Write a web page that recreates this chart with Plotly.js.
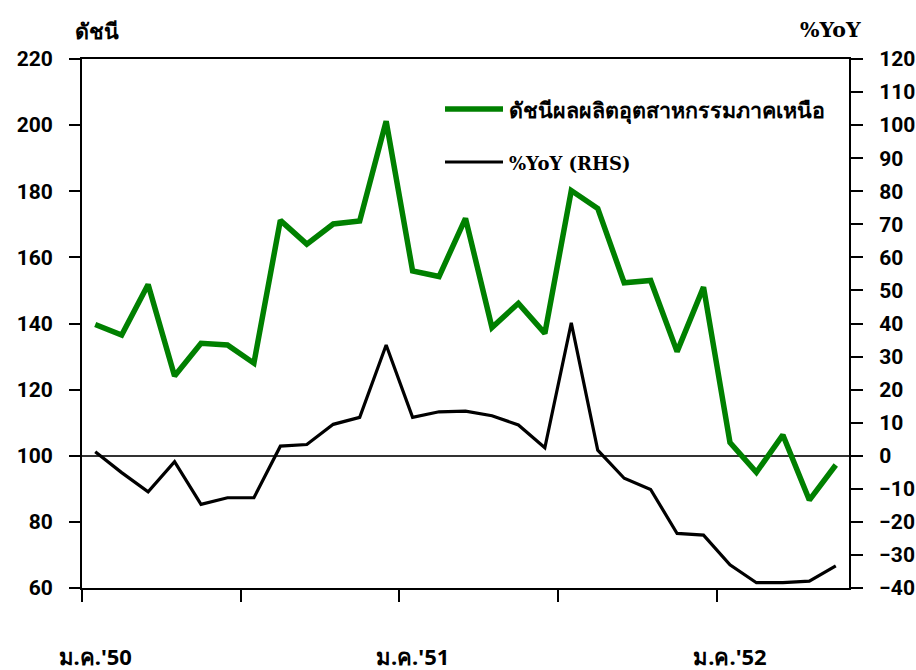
<!DOCTYPE html>
<html>
<head>
<meta charset="utf-8">
<script src="https://cdn.plot.ly/plotly-3.0.1.min.js"></script>
<style>html,body{margin:0;padding:0;background:#fff;}#chart{width:916px;height:670px;}</style>
</head>
<body>
<div id="chart"></div>
<script>
// Months Jan'50 .. May'52 (29 months)
const months = [
  "ม.ค.'50","ก.พ.'50","มี.ค.'50","เม.ย.'50","พ.ค.'50","มิ.ย.'50","ก.ค.'50","ส.ค.'50","ก.ย.'50","ต.ค.'50","พ.ย.'50","ธ.ค.'50",
  "ม.ค.'51","ก.พ.'51","มี.ค.'51","เม.ย.'51","พ.ค.'51","มิ.ย.'51","ก.ค.'51","ส.ค.'51","ก.ย.'51","ต.ค.'51","พ.ย.'51","ธ.ค.'51",
  "ม.ค.'52","ก.พ.'52","มี.ค.'52","เม.ย.'52","พ.ค.'52"
];
const indexValues = [139.7,136.5,151.8,124.1,134.0,133.5,128.0,171.2,164.0,170.1,171.0,201.2,
                     155.9,154.2,171.8,138.8,146.1,137.0,180.2,174.8,152.3,153.0,131.5,151.0,
                     104.0,95.0,106.3,86.6,97.2];
const yoyValues = [1.2,-5.1,-10.9,-1.8,-14.7,-12.7,-12.7,2.9,3.4,9.5,11.6,33.5,
                   11.6,13.3,13.5,12.1,9.3,2.4,40.2,1.7,-6.8,-10.2,-23.5,-24.0,
                   -33.0,-38.4,-38.4,-37.9,-33.3];
const xTickLabels = ["ม.ค.'50","ม.ค.'51","ม.ค.'52"];
const seriesNames = ["ดัชนีผลผลิตอุตสาหกรรมภาคเหนือ","%YoY (RHS)"];
const leftTitle = "ดัชนี";
const rightTitle = "%YoY";

const xIdx = months.map((m,i)=>i);
const xTickVals = xTickLabels.map(l => months.indexOf(l));

const GREEN = "rgb(0,128,0)";
const tickFont = {family:"Roboto, 'Noto Sans', sans-serif", size:21, color:"#000", weight:700};
const serifFont = {family:"'DejaVu Serif', 'Liberation Serif', serif", size:18, color:"#000", weight:700};
const serifTitleFont = {family:"'DejaVu Serif', 'Liberation Serif', serif", size:20.5, color:"#000", weight:700};
const thaiFont = {family:"'Noto Sans', Roboto, sans-serif", size:21.5, color:"#000", weight:700};
const thaiTickFont = {family:"'Noto Sans', Roboto, sans-serif", size:22, color:"#000", weight:700};

const traces = [
  {x:xIdx, y:indexValues, text:months, type:"scatter", mode:"lines", name:seriesNames[0],
   line:{color:GREEN, width:5.5}, yaxis:"y", hoverinfo:"text+y"},
  {x:xIdx, y:yoyValues, text:months, type:"scatter", mode:"lines", name:seriesNames[1],
   line:{color:"#000", width:3.2}, yaxis:"y2", hoverinfo:"text+y"}
];

// helper: pixel -> paper
const L=82, R=849, T=59, B=588;
const px = v => (v-L)/(R-L);
const py = v => (B-v)/(B-T);

const layout = {
  width:916, height:670,
  margin:{l:L, r:916-R, t:T, b:670-B},
  paper_bgcolor:"#fff", plot_bgcolor:"#fff",
  showlegend:false,
  xaxis:{
    range:[-0.5, months.length-0.5],
    tickmode:"array", tickvals:xTickVals, ticktext:xTickLabels,
    ticks:"", ticklabelstandoff:49,
    tickfont:thaiTickFont,
    minor:{tick0:-0.5, dtick:6, ticks:"outside", ticklen:12, tickwidth:2, tickcolor:"#000", showgrid:false},
    showline:true, linecolor:"#000", linewidth:2, mirror:true,
    showgrid:false, zeroline:false, fixedrange:true
  },
  yaxis:{
    range:[60,220], dtick:20, tick0:60,
    ticks:"outside", ticklen:11, tickwidth:2, tickcolor:"#000",
    ticklabelstandoff:12,
    tickfont:tickFont,
    showline:true, linecolor:"#000", linewidth:2,
    showgrid:false, zeroline:false, fixedrange:true
  },
  yaxis2:{
    overlaying:"y", side:"right",
    range:[-40,120], dtick:10, tick0:-40,
    ticks:"outside", ticklen:12, tickwidth:2, tickcolor:"#000",
    ticklabelstandoff:12,
    tickfont:tickFont,
    showline:true, linecolor:"#000", linewidth:2,
    showgrid:false, zeroline:true, zerolinecolor:"#333", zerolinewidth:1.5, fixedrange:true
  },
  shapes:[
    {type:"line", xref:"paper", yref:"paper", x0:px(445), x1:px(503), y0:py(109), y1:py(109),
     line:{color:GREEN, width:5.5}},
    {type:"line", xref:"paper", yref:"paper", x0:px(445), x1:px(503), y0:py(162), y1:py(162),
     line:{color:"#000", width:3.2}}
  ],
  annotations:[
    {xref:"paper", yref:"paper", x:px(507), y:py(110), text:seriesNames[0], showarrow:false,
     xanchor:"left", yanchor:"middle", font:thaiFont},
    {xref:"paper", yref:"paper", x:px(507), y:py(163), text:seriesNames[1], showarrow:false,
     xanchor:"left", yanchor:"middle", font:serifFont},
    {xref:"paper", yref:"paper", x:px(97), y:py(31), text:leftTitle, showarrow:false,
     xanchor:"center", yanchor:"middle", font:thaiFont},
    {xref:"paper", yref:"paper", x:px(830), y:py(30), text:rightTitle, showarrow:false,
     xanchor:"center", yanchor:"middle", font:serifTitleFont}
  ]
};

Plotly.newPlot("chart", traces, layout, {displayModeBar:false, staticPlot:true});
</script>
</body>
</html>
